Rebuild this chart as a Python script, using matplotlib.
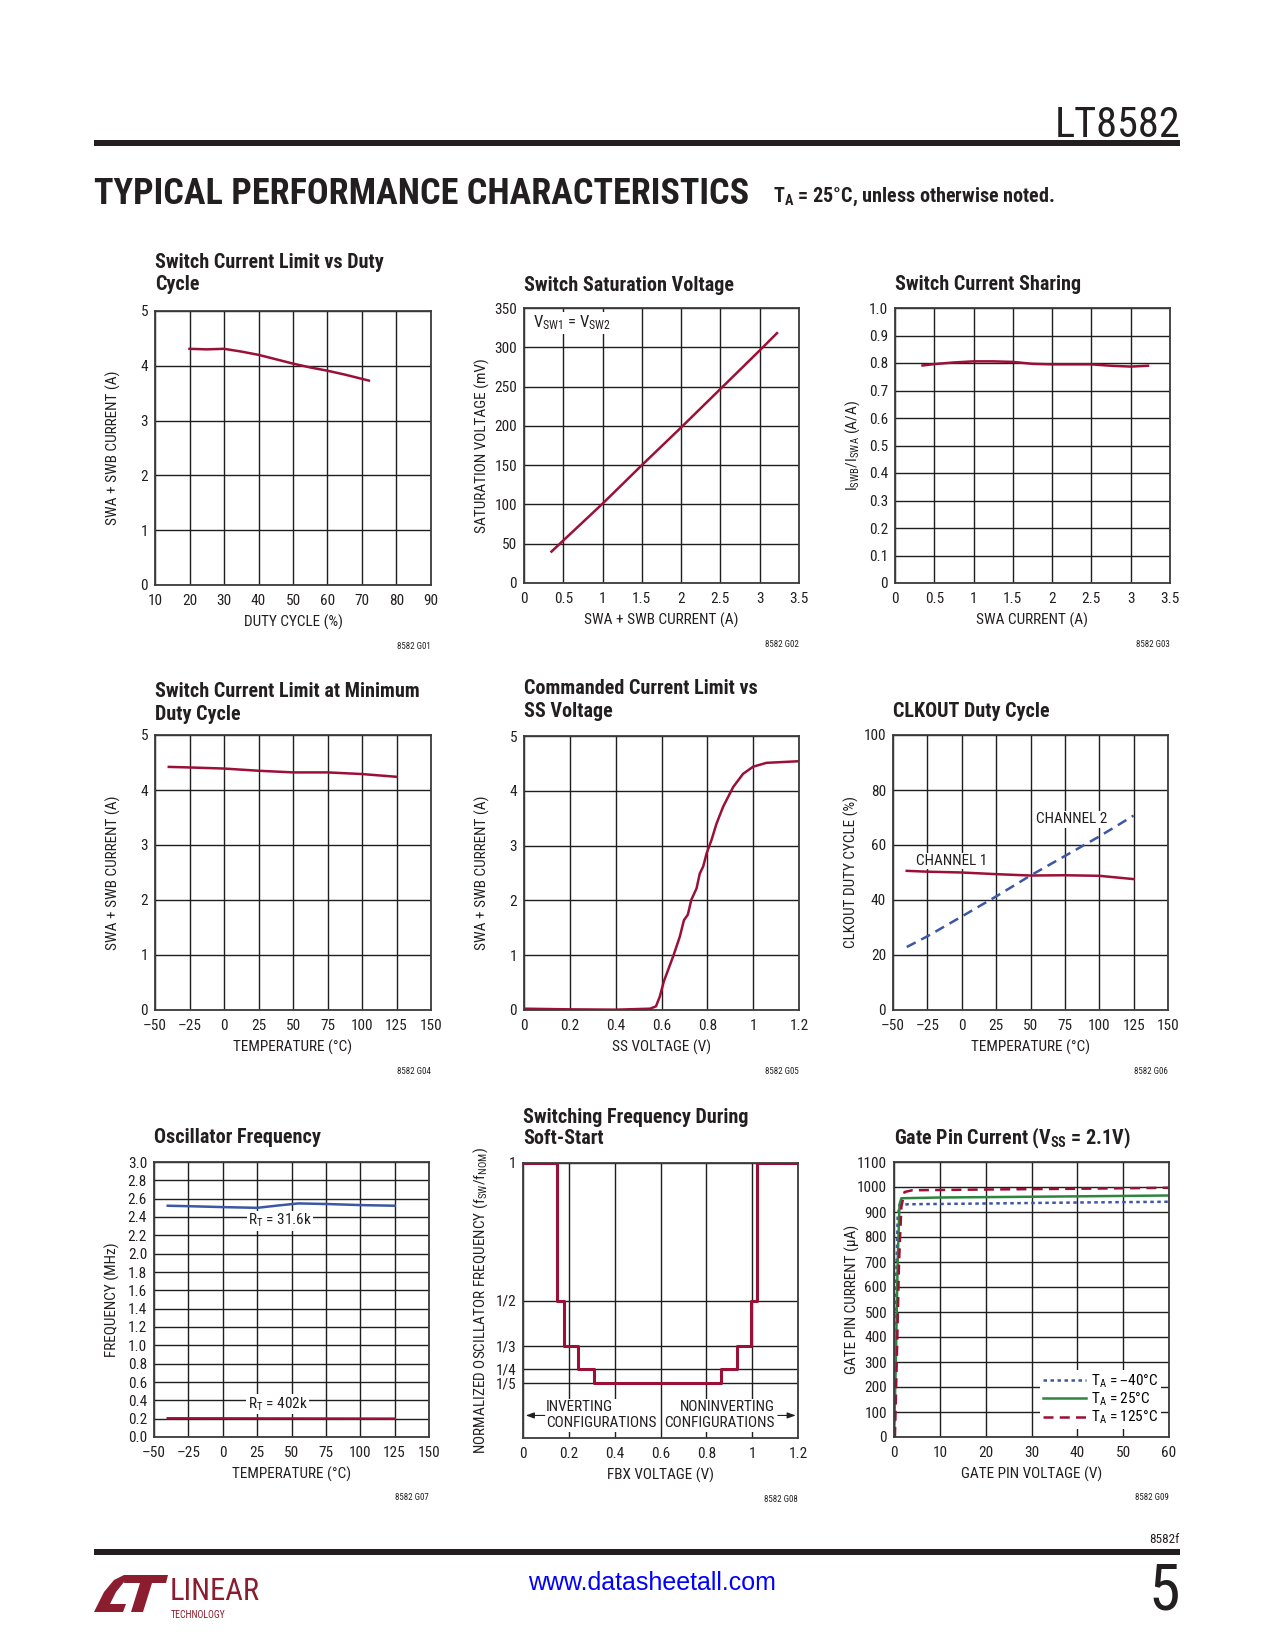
import matplotlib
matplotlib.use("Agg")
import matplotlib.pyplot as plt
from matplotlib import font_manager
from matplotlib.patches import Rectangle, Polygon

# =========================
# DATA
# =========================
# G01 switch current limit vs duty cycle
g01_duty = [20, 25, 30, 35, 40, 45, 50, 55, 60, 65, 72]
g01_current = [4.31, 4.30, 4.31, 4.26, 4.20, 4.12, 4.04, 3.97, 3.91, 3.84, 3.73]

# G02 switch saturation voltage
g02_current = [0.35, 1.0, 1.5, 2.0, 2.5, 3.0, 3.22]
g02_vsat = [40, 101, 150, 198, 247, 296, 318]

# G03 switch current sharing
g03_current = [0.35, 0.5, 0.75, 1.0, 1.25, 1.5, 1.75, 2.0, 2.5, 2.75, 3.0, 3.22]
g03_ratio = [0.791, 0.796, 0.802, 0.806, 0.806, 0.804, 0.797, 0.795, 0.795, 0.790, 0.787, 0.790]

# G04 switch current limit at minimum duty cycle
g04_temp = [-40, -25, 0, 25, 50, 75, 100, 125]
g04_current = [4.42, 4.41, 4.39, 4.35, 4.32, 4.32, 4.29, 4.24]

# G05 commanded current limit vs SS voltage
g05_ss = [0.0, 0.2, 0.4, 0.55, 0.576, 0.593, 0.61, 0.651, 0.68, 0.698, 0.715, 0.73,
          0.753, 0.767, 0.782, 0.797, 0.818, 0.84, 0.869, 0.913, 0.956, 1.0, 1.058, 1.2]
g05_current = [0.024, 0.012, 0.006, 0.024, 0.067, 0.25, 0.52, 0.98, 1.34, 1.64, 1.74, 2.01,
               2.22, 2.49, 2.62, 2.86, 3.10, 3.40, 3.71, 4.07, 4.31, 4.44, 4.51, 4.54]

# G06 CLKOUT duty cycle
g06_temp = [-40, -25, 0, 25, 50, 75, 100, 125]
g06_ch1 = [50.6, 50.3, 50.0, 49.4, 48.9, 49.0, 48.8, 47.6]
g06_ch2 = [22.9, 26.8, 34.0, 41.3, 48.9, 56.0, 63.1, 70.7]

# G07 oscillator frequency
g07_temp = [-40, -25, 0, 25, 40, 55, 75, 100, 125]
g07_rt31k = [2.523, 2.518, 2.508, 2.500, 2.525, 2.548, 2.542, 2.530, 2.523]
g07_temp_402k = [-40, 50, 125]
g07_rt402k = [0.204, 0.202, 0.200]

# G08 switching frequency during soft-start
g08_fbx = [0, 0.148, 0.18, 0.242, 0.31, 0.862, 0.932, 0.993, 1.022, 1.2]
g08_norm = [1, 1 / 2, 1 / 3, 1 / 4, 1 / 5, 1 / 4, 1 / 3, 1 / 2, 1, 1]

# G09 gate pin current
g09_v_cold = [0, 0.2, 0.5, 0.8, 1.2, 3, 20, 40, 60]
g09_i_cold = [0, 250, 650, 880, 928, 931, 934, 938, 941]
g09_v_room = [0, 0.4, 0.8, 1.2, 1.6, 10, 30, 60]
g09_i_room = [0, 300, 700, 930, 955, 958, 961, 966]
g09_v_hot = [0.2, 0.6, 1.1, 1.6, 2.3, 4, 20, 40, 60]
g09_i_hot = [0, 300, 700, 920, 980, 987, 990, 993, 997]

# tick labels
temp_ticks = [-50, -25, 0, 25, 50, 75, 100, 125, 150]
temp_labels = ["–50", "–25", "0", "25", "50", "75", "100", "125", "150"]
amp_ticks = [0, 0.5, 1, 1.5, 2, 2.5, 3, 3.5]
amp_labels = ["0", "0.5", "1", "1.5", "2", "2.5", "3", "3.5"]
five_ticks = [0, 1, 2, 3, 4, 5]
five_labels = ["0", "1", "2", "3", "4", "5"]
duty_ticks = [10, 20, 30, 40, 50, 60, 70, 80, 90]
duty_labels = ["10", "20", "30", "40", "50", "60", "70", "80", "90"]
vsat_ticks = [0, 50, 100, 150, 200, 250, 300, 350]
ratio_ticks = [0, 0.1, 0.2, 0.3, 0.4, 0.5, 0.6, 0.7, 0.8, 0.9, 1.0]
ratio_labels = ["0", "0.1", "0.2", "0.3", "0.4", "0.5", "0.6", "0.7", "0.8", "0.9", "1.0"]
ss_ticks = [0, 0.2, 0.4, 0.6, 0.8, 1.0, 1.2]
ss_labels = ["0", "0.2", "0.4", "0.6", "0.8", "1", "1.2"]
pct_ticks = [0, 20, 40, 60, 80, 100]
freq_ticks = [0.0, 0.2, 0.4, 0.6, 0.8, 1.0, 1.2, 1.4, 1.6, 1.8, 2.0, 2.2, 2.4, 2.6, 2.8, 3.0]
freq_labels = ["0.0", "0.2", "0.4", "0.6", "0.8", "1.0", "1.2", "1.4", "1.6", "1.8",
               "2.0", "2.2", "2.4", "2.6", "2.8", "3.0"]
norm_ticks = [1, 1 / 2, 1 / 3, 1 / 4, 1 / 5]
norm_labels = ["1", "1/2", "1/3", "1/4", "1/5"]
gate_v_ticks = [0, 10, 20, 30, 40, 50, 60]
gate_i_ticks = [0, 100, 200, 300, 400, 500, 600, 700, 800, 900, 1000, 1100]


# =========================
# STYLE
# =========================
installed = {f.name for f in font_manager.fontManager.ttflist}


def pick(*names):
    for n in names:
        if n in installed:
            return n
    return "DejaVu Sans"


NARROW = pick("Liberation Sans Narrow", "Roboto Condensed", "Open Sans Condensed",
              "Liberation Sans", "Roboto")
ARIAL = pick("Liberation Sans", "Roboto", "DejaVu Sans")

plt.rcParams["font.family"] = [NARROW, "DejaVu Sans"]

INK = "#231f20"
GRID = "#1e1e1e"
FRAME = "#3c3c3c"
RED = "#9a1036"
BLUE = "#3b57a6"
GREEN = "#2e8540"
LOGO = "#8c1d2f"

TICK_FS = 11
LABEL_FS = 11
NOTE_FS = 11

W, H = 1275, 1650
fig = plt.figure(figsize=(W / 100, H / 100), dpi=100)


def fx(x):
    return x / W


def fy(y):
    return 1 - y / H


def panel(box, xlim, ylim, xt, xtl, yt, ytl, xlabel, ylabel, title, title_y, tag):
    l, t, r, b = box
    ax = fig.add_axes([fx(l), fy(b), (r - l) / W, (b - t) / H])
    ax.set_xlim(xlim)
    ax.set_ylim(ylim)
    ax.set_xticks(xt, xtl)
    ax.set_yticks(yt, ytl)
    ax.tick_params(length=0, labelsize=TICK_FS, colors=INK)
    ax.tick_params(axis="x", pad=6.5)
    ax.tick_params(axis="y", pad=5)
    ax.grid(True, color=GRID, lw=1.0)
    for s in ax.spines.values():
        s.set_color(FRAME)
        s.set_linewidth(1.3)
    ax.set_xlabel(xlabel, fontsize=LABEL_FS, va="center", color=INK)
    ax.xaxis.set_label_coords(0.5, -37 / (b - t))
    ax.set_ylabel(ylabel, fontsize=LABEL_FS, va="center", color=INK)
    ax.yaxis.set_label_coords(-42 / (r - l), 0.5)
    for line, yb in zip(title, title_y):
        fig.text(fx(l), fy(yb), line, fontsize=14.5, fontweight="bold",
                 va="baseline", ha="left", color=INK)
    fig.text(fx(r), fy(b + 61), tag, fontsize=6.5, ha="right", va="center", color=INK)
    return ax


# =========================
# PAGE HEADER / FOOTER
# =========================
fig.text(fx(1180), fy(137), "LT8582", fontsize=30.5, ha="right", va="baseline", color=INK)
fig.add_artist(Rectangle((fx(94), fy(146)), (1180 - 94) / W, 6 / H,
                         transform=fig.transFigure, color=INK, lw=0))
fig.text(fx(94), fy(204), "TYPICAL PERFORMANCE CHARACTERISTICS", fontsize=26,
         fontweight="bold", ha="left", va="baseline", color=INK)
fig.text(fx(773), fy(202), r"$\mathregular{T_A}$ = 25°C, unless otherwise noted.",
         fontsize=14.5, fontweight="bold", ha="left", va="baseline", color=INK)

fig.text(fx(1180), fy(1543), "8582f", fontsize=9.5, ha="right", va="baseline", color=INK)
fig.add_artist(Rectangle((fx(94), fy(1555)), (1180 - 94) / W, 6 / H,
                         transform=fig.transFigure, color=INK, lw=0))
fig.text(fx(652), fy(1590), "www.datasheetall.com", fontsize=18, family=ARIAL,
         ha="center", va="baseline", color="#0000ff")
fig.text(fx(1180), fy(1610), "5", fontsize=46, ha="right", va="baseline", color=INK)

# logo mark
swoosh = [(94, 1612), (104, 1592), (114, 1580), (124, 1575), (134, 1575), (124, 1582),
          (116, 1592), (110, 1604), (126, 1604), (123, 1612)]
tee = [(126, 1575), (168, 1575), (166, 1583), (152, 1583), (143, 1612), (131, 1612),
       (140, 1583), (124, 1583)]
for poly in (swoosh, tee):
    fig.add_artist(Polygon([(fx(x), fy(y)) for x, y in poly], closed=True,
                           transform=fig.transFigure, color=LOGO, lw=0))
fig.text(fx(170), fy(1600), "LINEAR", fontsize=22, ha="left", va="baseline", color=LOGO)
fig.text(fx(171), fy(1618), "TECHNOLOGY", fontsize=7, ha="left", va="baseline", color=LOGO)


# =========================
# ROW 1
# =========================
ax = panel((155, 311, 431, 585), (10, 90), (0, 5), duty_ticks, duty_labels,
           five_ticks, five_labels, "DUTY CYCLE (%)", "SWA + SWB CURRENT (A)",
           ["Switch Current Limit vs Duty", "Cycle"], [268, 290], "8582 G01")
ax.plot(g01_duty, g01_current, color=RED, lw=1.8)

ax = panel((524, 308, 799, 583), (0, 3.5), (0, 350), amp_ticks, amp_labels,
           vsat_ticks, [str(v) for v in vsat_ticks], "SWA + SWB CURRENT (A)",
           "SATURATION VOLTAGE (mV)", ["Switch Saturation Voltage"], [291], "8582 G02")
ax.plot(g02_current, g02_vsat, color=RED, lw=1.8)
ax.text(0.12, 331, r"$\mathregular{V_{SW1}}$ = $\mathregular{V_{SW2}}$", fontsize=12,
        ha="left", va="center", color=INK,
        bbox=dict(fc="white", ec="none", pad=1))

ax = panel((895, 308, 1170, 583), (0, 3.5), (0, 1.0), amp_ticks, amp_labels,
           ratio_ticks, ratio_labels, "SWA CURRENT (A)",
           r"$\mathregular{I_{SWB}/I_{SWA}}$ (A/A)", ["Switch Current Sharing"], [290],
           "8582 G03")
ax.plot(g03_current, g03_ratio, color=RED, lw=1.8)

# =========================
# ROW 2
# =========================
ax = panel((155, 735, 431, 1010), (-50, 150), (0, 5), temp_ticks, temp_labels,
           five_ticks, five_labels, "TEMPERATURE (°C)", "SWA + SWB CURRENT (A)",
           ["Switch Current Limit at Minimum", "Duty Cycle"], [697, 720], "8582 G04")
ax.plot(g04_temp, g04_current, color=RED, lw=1.8)

ax = panel((524, 736, 799, 1010), (0, 1.2), (0, 5), ss_ticks, ss_labels,
           five_ticks, five_labels, "SS VOLTAGE (V)", "SWA + SWB CURRENT (A)",
           ["Commanded Current Limit vs", "SS Voltage"], [694, 717], "8582 G05")
ax.plot(g05_ss, g05_current, color=RED, lw=1.8)

ax = panel((893, 735, 1168, 1010), (-50, 150), (0, 100), temp_ticks, temp_labels,
           pct_ticks, [str(v) for v in pct_ticks], "TEMPERATURE (°C)",
           "CLKOUT DUTY CYCLE (%)", ["CLKOUT Duty Cycle"], [717], "8582 G06")
ax.plot(g06_temp, g06_ch1, color=RED, lw=1.8)
ax.plot(g06_temp, g06_ch2, color=BLUE, lw=1.8, ls=(0, (4, 2.5)))
ax.text(-33, 54.2, "CHANNEL 1", fontsize=NOTE_FS, ha="left", va="center", color=INK,
        bbox=dict(fc="white", ec="none", pad=1))
ax.text(54, 69.4, "CHANNEL 2", fontsize=NOTE_FS, ha="left", va="center", color=INK,
        bbox=dict(fc="white", ec="none", pad=1))

# =========================
# ROW 3
# =========================
ax = panel((154, 1162, 429, 1437), (-50, 150), (0, 3.0), temp_ticks, temp_labels,
           freq_ticks, freq_labels, "TEMPERATURE (°C)", "FREQUENCY (MHz)",
           ["Oscillator Frequency"], [1143], "8582 G07")
ax.plot(g07_temp, g07_rt31k, color=BLUE, lw=1.8)
ax.plot(g07_temp_402k, g07_rt402k, color=RED, lw=1.8)
ax.text(41.5, 2.36, r"$\mathregular{R_T}$ = 31.6k", fontsize=NOTE_FS, ha="center",
        va="center", color=INK, bbox=dict(fc="white", ec="none", pad=1))
ax.text(40, 0.357, r"$\mathregular{R_T}$ = 402k", fontsize=NOTE_FS, ha="center",
        va="center", color=INK, bbox=dict(fc="white", ec="none", pad=1))

ax = panel((523, 1163, 798, 1438), (0, 1.2), (0, 1), ss_ticks, ss_labels,
           norm_ticks, norm_labels, "FBX VOLTAGE (V)",
           r"NORMALIZED OSCILLATOR FREQUENCY ($\mathregular{f_{SW}/f_{NOM}}$)",
           ["Switching Frequency During", "Soft-Start"], [1123, 1144], "8582 G08")
ax.plot(g08_fbx, g08_norm, color=RED, lw=2.2, drawstyle="steps-post", zorder=4)
ax.text(0.10, 0.083, "INVERTING\nCONFIGURATIONS", fontsize=NOTE_FS, ha="left",
        va="center", color=INK, linespacing=1.2, bbox=dict(fc="white", ec="none", pad=1))
ax.text(1.099, 0.083, "NONINVERTING\nCONFIGURATIONS", fontsize=NOTE_FS, ha="right",
        va="center", multialignment="right", color=INK, linespacing=1.2,
        bbox=dict(fc="white", ec="none", pad=1))
arrow = dict(arrowstyle="-|>,head_length=0.5,head_width=0.18", lw=0.8, color=INK,
             shrinkA=0, shrinkB=0)
ax.annotate("", xy=(0.012, 0.082), xytext=(0.095, 0.082), arrowprops=arrow)
ax.annotate("", xy=(1.19, 0.082), xytext=(1.112, 0.082), arrowprops=arrow)

ax = panel((894, 1162, 1169, 1437), (0, 60), (0, 1100), gate_v_ticks,
           [str(v) for v in gate_v_ticks], gate_i_ticks, [str(v) for v in gate_i_ticks],
           "GATE PIN VOLTAGE (V)", "GATE PIN CURRENT (µA)",
           [r"Gate Pin Current ($\mathregular{V_{SS}}$ = 2.1V)"], [1144], "8582 G09")
ax.plot(g09_v_cold, g09_i_cold, color=BLUE, lw=1.8, ls=(0, (1.4, 1.4)),
        label=r"$\mathregular{T_A}$ = –40°C")
ax.plot(g09_v_room, g09_i_room, color=GREEN, lw=1.8, label=r"$\mathregular{T_A}$ = 25°C")
ax.plot(g09_v_hot, g09_i_hot, color=RED, lw=1.8, ls=(0, (4, 2.5)),
        label=r"$\mathregular{T_A}$ = 125°C")
leg = ax.legend(loc="lower right", fontsize=NOTE_FS, frameon=True, handlelength=2.8,
                handletextpad=0.35, labelspacing=0.05, borderaxespad=0.5, borderpad=0.2)
leg.get_frame().set_edgecolor("none")
leg.get_frame().set_facecolor("white")
leg.get_frame().set_alpha(1)

fig.savefig("out.png", dpi=100, facecolor="white")
print("done")
